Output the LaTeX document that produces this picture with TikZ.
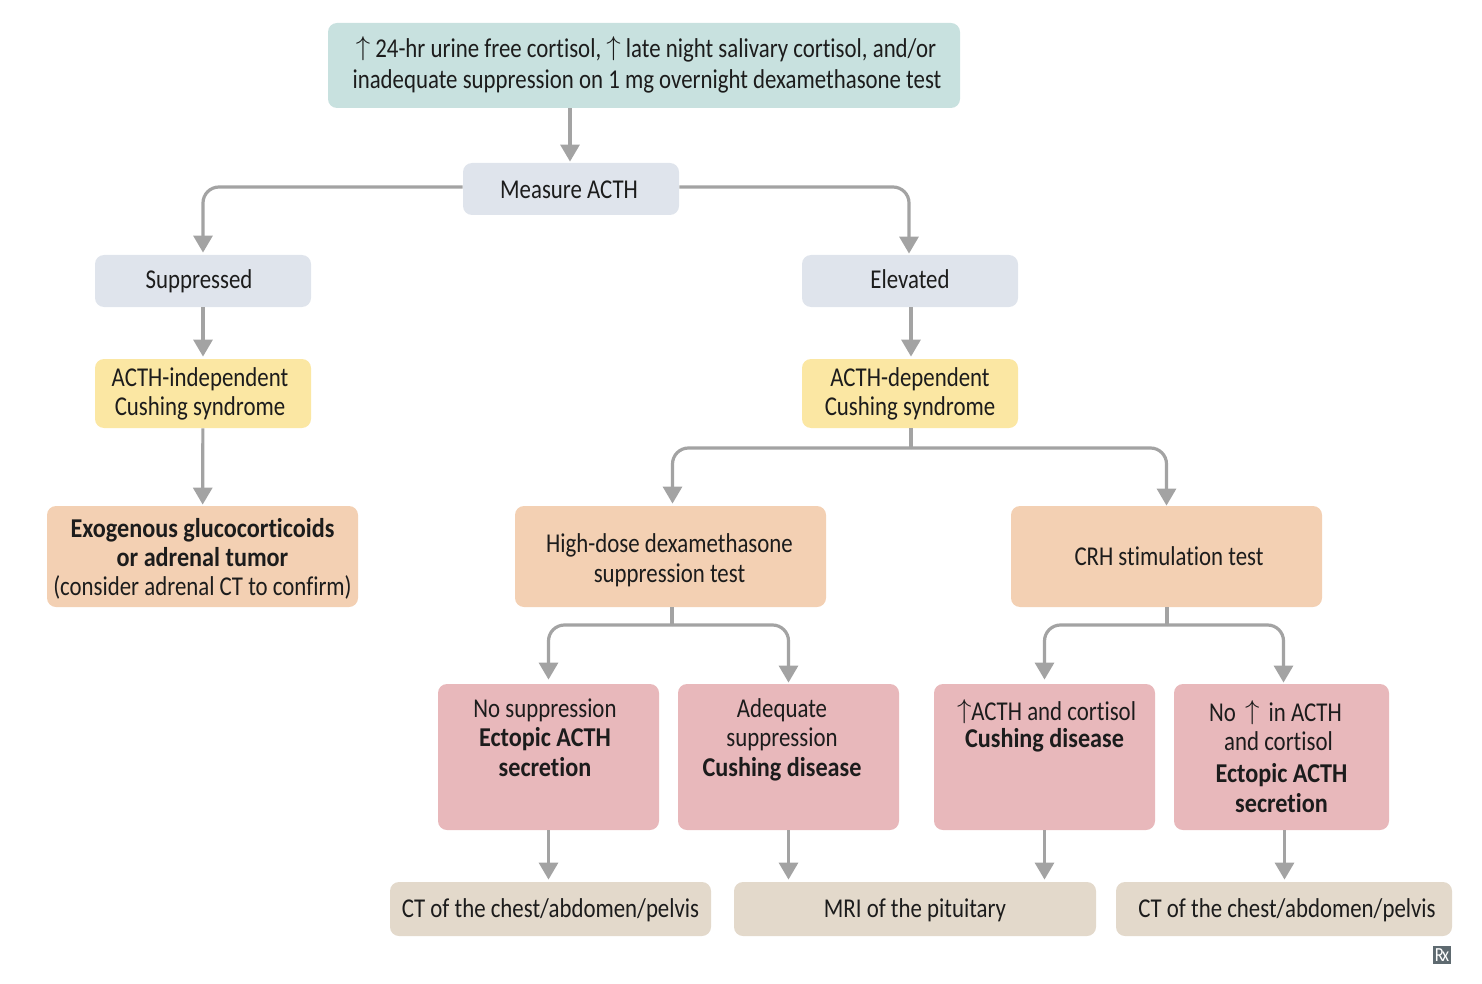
\documentclass[tikz,border=0pt]{standalone}
\usepackage{fontspec}
\setmainfont{Carlito}[FakeStretch=0.84, Ligatures=NoCommon, BoldFeatures={FakeStretch=0.89}]
\usetikzlibrary{arrows.meta,calc}
\definecolor{tealbox}{HTML}{C8E1DF}
\definecolor{greybox}{HTML}{DFE4EC}
\definecolor{yellowbox}{HTML}{FBE7A3}
\definecolor{orangebox}{HTML}{F3D0B3}
\definecolor{pinkbox}{HTML}{E8B8BB}
\definecolor{beigebox}{HTML}{E3D9CB}
\definecolor{inktext}{HTML}{1C1C1C}
\definecolor{flowgrey}{HTML}{A3A3A3}
\definecolor{rxgrey}{HTML}{5E6A70}
\newcommand{\upA}{\raisebox{1pt}{\scalebox{1.0}[0.95]{$\uparrow$}}}
\newcommand{\nudge}[1]{\hbox to #1{}}
\tikzset{
  box/.style     ={rounded corners=4.5pt, inner sep=0pt, align=center, text=inktext, font=\fontsize{13.6}{14.6}\selectfont},
  tealS/.style   ={box, fill=tealbox, minimum width=316pt, text height=33pt, text depth=9.5pt},
  greyS/.style   ={box, fill=greybox, minimum width=108pt, text height=16.5pt, text depth=9.5pt},
  yellowS/.style ={box, fill=yellowbox, minimum width=108pt, minimum height=34.5pt},
  orangeS/.style ={box, fill=orangebox, minimum width=155.5pt, minimum height=50.5pt},
  pinkS/.style   ={box, fill=pinkbox, minimum width=#1},
  twolines/.style  ={text height=31.5pt, text depth=41.5pt},
  threelines/.style={text height=46pt, text depth=27pt},
  fourlines/.style ={text height=64pt, text depth=9pt},
  beigeS/.style  ={box, fill=beigebox, minimum width=#1, text height=17.5pt, text depth=9.5pt},
  flow/.style    ={draw=flowgrey, line width=1.6pt, rounded corners=8pt, -{Triangle[width=9.5pt,length=8.5pt]}},
  stem/.style    ={draw=flowgrey, line width=1.6pt},
}
\begin{document}
\begin{tikzpicture}[x=0.5pt,y=-0.5pt]
  \useasboundingbox (0,0) rectangle (1482,984);
  \node[tealS] (screen) at (644,65.5) {\nudge{2pt}\upA\ 24-hr urine free cortisol, \upA\ late night salivary cortisol, and/or\\[1pt]\nudge{3pt}inadequate suppression on 1 mg overnight dexamethasone test};
  \node[greyS, text height=18pt, text depth=8pt] (measure) at (571,189) {Measure ACTH\nudge{2pt}};
  \node[greyS] (suppressed) at (203,281) {Suppressed\nudge{4pt}};
  \node[greyS] (elevated) at (910,281) {Elevated};
  \node[yellowS] (indep) at (203,393.5) {ACTH-independent\nudge{3pt}\\Cushing syndrome\nudge{3pt}};
  \node[yellowS] (dep) at (910,393.5) {ACTH-dependent\\Cushing syndrome};
  \node[orangeS, text height=44.75pt, text depth=5.75pt] (exog) at (202.5,556.5) {\textbf{Exogenous glucocorticoids}\\\textbf{or adrenal tumor}\\(consider adrenal CT to confirm)};
  \node[orangeS, text height=38pt, text depth=12.5pt] (highdose) at (670.5,556.5) {High-dose dexamethasone\nudge{1pt}\\suppression test\nudge{1pt}};
  \node[orangeS] (crh) at (1166.5,556.5) {\nudge{2.5pt}CRH stimulation test};
  \node[pinkS=110.5pt, threelines] (nosupp) at (548.5,757) {No suppression\nudge{3.5pt}\\\textbf{Ectopic ACTH}\nudge{3.5pt}\\\textbf{secretion}\nudge{3.5pt}};
  \node[pinkS=110.5pt, threelines] (adequate) at (788.5,757) {Adequate\nudge{6.5pt}\\suppression\nudge{6.5pt}\\\textbf{Cushing disease}\nudge{6.5pt}};
  \node[pinkS=110.5pt, twolines] (raised) at (1044.5,757) {\nudge{2pt}\upA ACTH and cortisol\\[-1.5pt]\textbf{Cushing disease}};
  \node[pinkS=107.5pt, fourlines] (norise) at (1281.5,757) {No\hspace{2pt} \upA\ \hspace{2pt}in ACTH\nudge{6pt}\\and cortisol\nudge{3pt}\\[1.5pt]\textbf{Ectopic ACTH}\\\textbf{secretion}};
  \node[beigeS=160.5pt] (ctleft) at (550.5,909) {CT of the chest/abdomen/pelvis};
  \node[beigeS=181pt] (mri) at (915,909) {MRI of the pituitary};
  \node[beigeS=168pt] (ctright) at (1284,909) {\nudge{3pt}CT of the chest/abdomen/pelvis};
  \node[fill=rxgrey, text=white, inner sep=0pt, minimum size=9pt, font=\fontsize{10}{10}\selectfont] (rx) at (1442,955) {\makebox[0pt]{R\kern-1pt x}};
  \coordinate (depsplit) at (911,448);
  \coordinate (highsplit) at (672,625);
  \coordinate (crhsplit) at (1167,625);
  \draw[flow, shorten >=0.5pt] ([xshift=-0.5pt]screen.south -| measure.north) -- ([xshift=-0.5pt]measure.north);
  \draw[flow, shorten >=1pt] ([yshift=1pt]measure.west) -| (suppressed.north);
  \draw[flow, shorten >=0.5pt] ([yshift=1pt]measure.east) -| ([xshift=-0.5pt]elevated.north);
  \draw[flow, shorten >=1pt] (suppressed) -- (indep);
  \draw[flow, shorten >=1pt] ([xshift=0.5pt]elevated.south) -- ([xshift=0.5pt]dep.north);
  \draw[flow, shorten >=0.5pt] (indep) -- (exog);
  \draw[stem] (depsplit |- dep.south) -- (depsplit);
  \draw[flow, shorten >=1pt] (depsplit) -| ([xshift=1pt]highdose.north);
  \draw[flow, shorten >=0pt] (depsplit) -| (crh.north);
  \draw[stem] (highsplit |- highdose.south) -- (highsplit);
  \draw[flow, shorten >=2pt] (highsplit) -| (nosupp.north);
  \draw[flow, shorten >=0.5pt] (highsplit) -| (adequate.north);
  \draw[stem] (crhsplit |- crh.south) -- (crhsplit);
  \draw[flow, shorten >=2pt] (crhsplit) -| (raised.north);
  \draw[flow, shorten >=0.5pt] (crhsplit) -| ([xshift=1pt]norise.north);
  \draw[flow, shorten >=1pt] (nosupp) -- (ctleft.north -| nosupp);
  \draw[flow, shorten >=1pt] (adequate) -- (mri.north -| adequate);
  \draw[flow, shorten >=1pt] (raised) -- (mri.north -| raised);
  \draw[flow, shorten >=1pt] ([xshift=1.5pt]norise.south) -- ([xshift=1.5pt]norise.south |- ctright.north);
\end{tikzpicture}
\end{document}
